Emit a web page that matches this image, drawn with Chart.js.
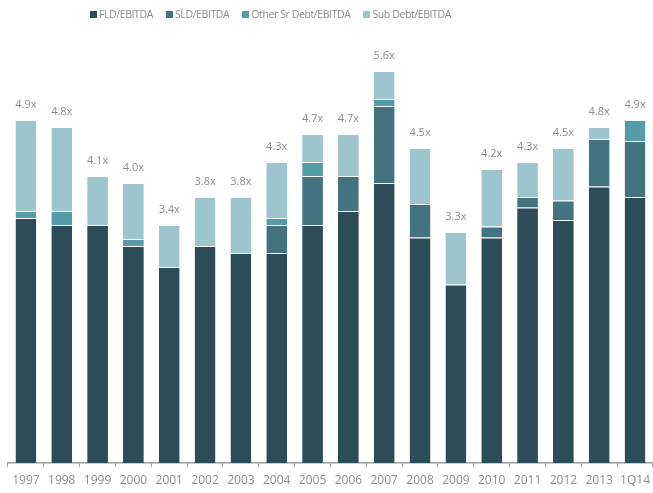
<!DOCTYPE html>
<html>
<head>
<meta charset="utf-8">
<script src="https://cdn.jsdelivr.net/npm/chart.js@4/dist/chart.umd.min.js"></script>
<style>
  html, body { margin: 0; padding: 0; background: #fff; overflow: hidden; }
  #wrap { position: relative; width: 656px; height: 493px; }
  #legend {
    position: absolute; top: 7px; left: 90px; display: flex;
    font: 10.5px 'Open Sans', sans-serif; letter-spacing: -0.4px;
    color: #8c8c8c; white-space: nowrap;
  }
  #legend .item { display: flex; align-items: center; margin-right: 13px; }
  #legend .box { width: 7px; height: 7px; margin-right: 2px; }
</style>
</head>
<body>
<div id="wrap">
  <canvas id="leverage-chart" width="656" height="493"></canvas>
  <div id="legend"></div>
</div>
<script>
const categories = ['1997', '1998', '1999', '2000', '2001', '2002', '2003', '2004', '2005',
  '2006', '2007', '2008', '2009', '2010', '2011', '2012', '2013', '1Q14'];

// multiples of EBITDA, stacked bottom to top
const fld     = [3.5, 3.4, 3.4, 3.1, 2.8, 3.1, 3.0, 3.0, 3.4, 3.6, 4.0, 3.22, 2.55, 3.22, 3.65, 3.47, 3.95, 3.8];
const sld     = [0,   0,   0,   0,   0,   0,   0,   0.4, 0.7, 0.5, 1.1, 0.48, 0,    0.16, 0.15, 0.28, 0.68, 0.8];
const otherSr = [0.1, 0.2, 0,   0.1, 0,   0,   0,   0.1, 0.2, 0,   0.1, 0,    0,    0,    0,    0,    0,    0.3];
const subDebt = [1.3, 1.2, 0.7, 0.8, 0.6, 0.7, 0.8, 0.8, 0.4, 0.6, 0.4, 0.8,  0.75, 0.82, 0.5,  0.75, 0.17, 0];

const seriesNames = ['FLD/EBITDA', 'SLD/EBITDA', 'Other Sr Debt/EBITDA', 'Sub Debt/EBITDA'];
const seriesColors = ['#2c4d57', '#42737e', '#569ba9', '#9cc5ce'];

const totals = categories.map((_, i) => fld[i] + sld[i] + otherSr[i] + subDebt[i]);

const textColor = '#8c8c8c';
const axisColor = '#9a9a9a';
const font = "'Open Sans', sans-serif";

// total multiple printed above each stack
const totalLabels = {
  id: 'totalLabels',
  afterDatasetsDraw(chart) {
    const { ctx, scales } = chart;
    ctx.save();
    ctx.fillStyle = textColor;
    ctx.font = `11px ${font}`;
    ctx.textAlign = 'center';
    ctx.textBaseline = 'middle';
    totals.forEach((t, i) => {
      const x = scales.x.getPixelForValue(i);
      const y = scales.y.getPixelForValue(t);
      ctx.fillText(`${t.toFixed(1)}x`, x, y - 15);
    });
    ctx.restore();
  }
};

const makeDataset = (label, data, color) => ({
  label,
  data,
  backgroundColor: color,
  borderColor: 'rgba(255,255,255,0.3)',
  borderWidth: (c) => (c.raw ? { top: 1, left: 0, right: 0, bottom: 0 } : 0),
  borderSkipped: false,
  categoryPercentage: 1,
  barPercentage: 0.58
});

const chart = new Chart(document.getElementById('leverage-chart'), {
  type: 'bar',
  data: {
    labels: categories,
    datasets: [
      makeDataset(seriesNames[0], fld, seriesColors[0]),
      makeDataset(seriesNames[1], sld, seriesColors[1]),
      makeDataset(seriesNames[2], otherSr, seriesColors[2]),
      makeDataset(seriesNames[3], subDebt, seriesColors[3])
    ]
  },
  options: {
    responsive: false,
    animation: false,
    layout: { padding: { top: 43, left: 8, right: 0, bottom: 0 } },
    plugins: {
      legend: { display: false },
      tooltip: { enabled: false }
    },
    scales: {
      x: {
        stacked: true,
        afterFit: (scale) => { scale.height = 30; },
        grid: {
          display: true,
          drawOnChartArea: false,
          drawTicks: true,
          tickLength: 4,
          color: axisColor,
          offset: true
        },
        border: { display: true, color: axisColor, width: 1.5 },
        ticks: {
          color: textColor,
          font: { family: font, size: 12 },
          padding: 6,
          maxRotation: 0,
          autoSkip: false
        }
      },
      y: {
        stacked: true,
        display: false,
        min: 0,
        max: 6
      }
    }
  },
  plugins: [totalLabels]
});

// legend row built from the same series names and colours
const legend = document.getElementById('legend');
seriesNames.forEach((name, i) => {
  const item = document.createElement('div');
  item.className = 'item';
  const box = document.createElement('span');
  box.className = 'box';
  box.style.background = seriesColors[i];
  const text = document.createElement('span');
  text.textContent = name;
  item.appendChild(box);
  item.appendChild(text);
  legend.appendChild(item);
});
</script>
</body>
</html>
